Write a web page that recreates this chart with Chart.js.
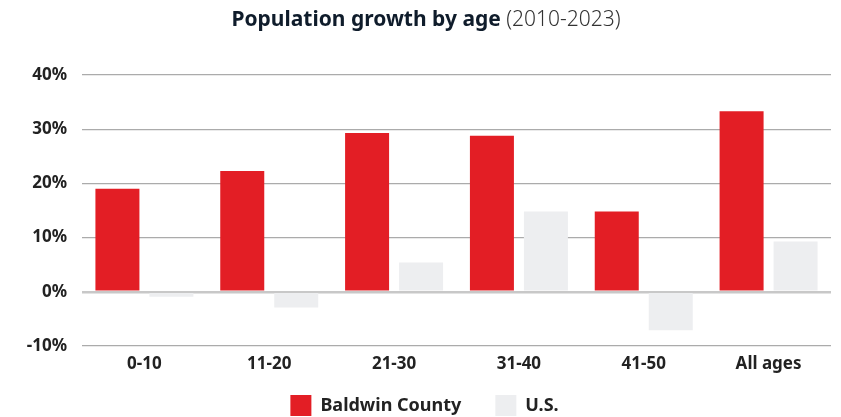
<!DOCTYPE html>
<html>
<head>
<meta charset="utf-8">
<script src="https://cdn.jsdelivr.net/npm/chart.js@4/dist/chart.umd.min.js"></script>
<style>
  html, body { margin: 0; padding: 0; background: #fff; }
  #wrap { width: 841px; height: 417px; position: relative; }
</style>
</head>
<body>
<div id="wrap"><canvas id="c" width="841" height="417"></canvas></div>
<script>
// Age groups and growth rates (%), 2010-2023
const categories = ['0-10', '11-20', '21-30', '31-40', '41-50', 'All ages'];
const baldwinCounty = [19.0, 22.3, 29.3, 28.8, 14.8, 33.3];
const unitedStates = [-0.9, -2.9, 5.4, 14.8, -7.1, 9.3];
const yTicks = [-10, 0, 10, 20, 30, 40];

const FONT = "'Noto Sans', sans-serif";
const LEGEND_GAP = 34;       // spacing between legend entries
const LEGEND_BOX_TOP = 395;  // y of the legend swatches
const LEGEND_SHIFT_X = 9;    // legend sits slightly right of the canvas centre

// Two-weight heading: bold main title followed by a light date range
const headingPlugin = {
  id: 'heading',
  afterDraw(chart) {
    const ctx = chart.ctx;
    const main = 'Population growth by age';
    const sub = ' (2010-2023)';
    ctx.save();
    ctx.textBaseline = 'middle';
    ctx.font = `bold 21px ${FONT}`;
    const w1 = ctx.measureText(main).width;
    ctx.font = `300 21px ${FONT}`;
    const w2 = ctx.measureText(sub).width;
    const x0 = 426 - (w1 + w2) / 2;
    const y = 20;
    ctx.fillStyle = '#0f1c2b';
    ctx.font = `bold 21px ${FONT}`;
    ctx.textAlign = 'left';
    ctx.fillText(main, x0, y);
    ctx.fillStyle = '#333333';
    ctx.font = `300 21px ${FONT}`;
    ctx.fillText(sub, x0 + w1, y);
    ctx.restore();
  }
};

// Pull the legend up so the wide entry gap does not also push it down
const legendPlacement = {
  id: 'legendPlacement',
  afterLayout(chart) {
    const lg = chart.legend;
    if (!lg) return;
    const h = lg.height;
    lg.top = LEGEND_BOX_TOP - LEGEND_GAP;
    lg.bottom = lg.top + h;
    lg.left += LEGEND_SHIFT_X;
    lg.right += LEGEND_SHIFT_X;
  }
};

new Chart(document.getElementById('c'), {
  type: 'bar',
  data: {
    labels: categories,
    datasets: [
      { label: 'Baldwin County', data: baldwinCounty, backgroundColor: '#e31e25' },
      { label: 'U.S.', data: unitedStates, backgroundColor: '#edeef0' }
    ]
  },
  options: {
    responsive: false,
    animation: false,
    devicePixelRatio: 1,
    categoryPercentage: 0.865,
    barPercentage: 0.815,
    layout: { padding: { top: 75, right: 10, left: 0, bottom: -28 } },
    plugins: {
      title: { display: false },
      tooltip: { enabled: false },
      legend: {
        position: 'bottom',
        labels: {
          boxWidth: 21,
          boxHeight: 21,
          padding: LEGEND_GAP,
          color: '#222',
          font: { family: FONT, size: 18, weight: 'bold' }
        }
      }
    },
    scales: {
      x: {
        afterFit(axis) { axis.height = 34; },
        grid: { display: false, drawTicks: false },
        border: { display: false },
        ticks: {
          color: '#222',
          padding: 8,
          font: { family: FONT, size: 17, weight: 'bold' }
        }
      },
      y: {
        min: -10,
        max: 40,
        afterBuildTicks(axis) { axis.ticks = yTicks.map(v => ({ value: v })); },
        afterFit(axis) { axis.width = 82; },
        grid: {
          drawTicks: false,
          color: ctx => ctx.tick && ctx.tick.value === 0 ? '#c8c8c8' : '#ababab',
          lineWidth: ctx => ctx.tick && ctx.tick.value === 0 ? 2.5 : 1.2
        },
        border: { display: false },
        ticks: {
          color: '#222',
          padding: 15,
          font: { family: FONT, size: 17, weight: 'bold' },
          callback: v => v + '%'
        }
      }
    }
  },
  plugins: [headingPlugin, legendPlacement]
});
</script>
</body>
</html>
